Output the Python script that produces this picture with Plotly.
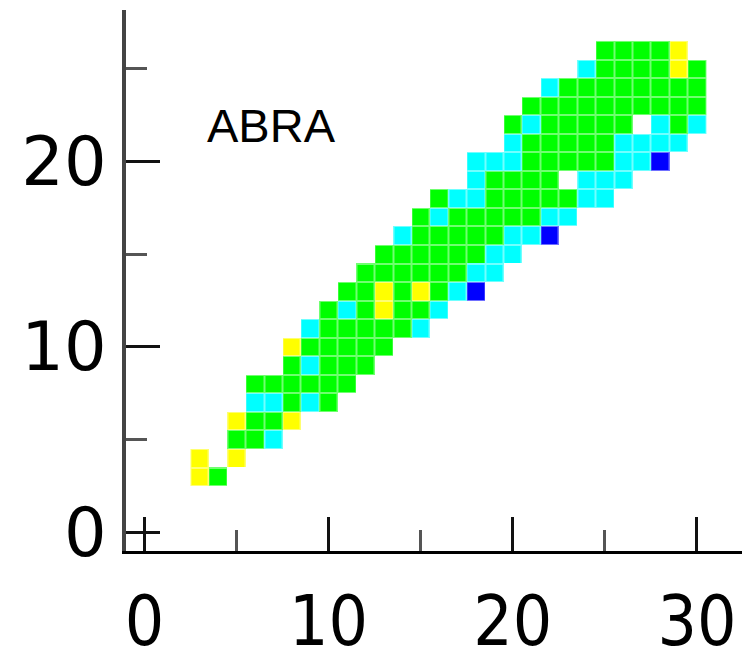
import plotly.graph_objects as go

# Grid columns / rows (cell centres, data units)
x_cols = list(range(3, 31))
y_rows = list(range(3, 27))

# For each row: first occupied column and the level code of every cell from there.
# B = level 1, C = level 2, G = level 3, Y = level 4, "." = empty
row_start = [3, 3, 5, 5, 6, 6, 8, 8, 9, 10, 11, 12,
             13, 14, 15, 16, 18, 18, 20, 20, 21, 22, 24, 25]
row_codes = [
    "YG",            # y=3
    "Y.Y",           # y=4
    "GGC",           # y=5
    "YGGY",          # y=6
    "CCGCG",         # y=7
    "GGGGGG",        # y=8
    "GCGGG",         # y=9
    "YGGGGG",        # y=10
    "CGGGGGC",       # y=11
    "GCGYGGC",       # y=12
    "GGYGYGCB",      # y=13
    "GGGGGGCC",      # y=14
    "GGGGGGCC",      # y=15
    "CGGGGGCCB",     # y=16
    "GCGGGGGCC",     # y=17
    "GCCGGGGGCC",    # y=18
    "CGGGG.CCC",     # y=19
    "CCCGGGGGCCB",   # y=20
    "CGGGGGCCCC",    # y=21
    "GCGGGGG.CGC",   # y=22
    "GGGGGGGGGG",    # y=23
    "CGGGGGGGG",     # y=24
    "CGGGGYG",       # y=25
    "GGGGY",         # y=26
]
level_of = {"B": 1, "C": 2, "G": 3, "Y": 4}

x_ticks = [0, 10, 20, 30]
y_ticks = [0, 10, 20]
minor_ticks = [5, 15, 25]
label_text = "ABRA"

# Build the z matrix
z = []
for start, codes in zip(row_start, row_codes):
    row = [None] * len(x_cols)
    for k, ch in enumerate(codes):
        if ch in level_of:
            row[x_cols.index(start + k)] = level_of[ch]
    z.append(row)


def stepped(colors):
    n = len(colors)
    scale = []
    for i, c in enumerate(colors):
        scale.append([i / n, c])
        scale.append([(i + 1) / n, c])
    return scale


solid = stepped(["#0000ff", "#00ffff", "#00ff00", "#ffff00"])
soft = stepped(["#7070ff", "#70ffff", "#70ff70", "#ffff70"])

fig = go.Figure()
# pale underlay so the gaps between bricks read as a light tint
fig.add_trace(go.Heatmap(x=x_cols, y=y_rows, z=z, colorscale=soft,
                         zmin=0.5, zmax=4.5, showscale=False,
                         hoverinfo="skip"))
fig.add_trace(go.Heatmap(x=x_cols, y=y_rows, z=z, colorscale=solid,
                         zmin=0.5, zmax=4.5, showscale=False,
                         xgap=2, ygap=2))

fig.add_annotation(x=3.3, y=21.95, xref="x", yref="y", text=label_text,
                   showarrow=False, xanchor="left", yanchor="middle",
                   font=dict(family="Liberation Sans, Arial, sans-serif",
                             size=47, color="black"))

x_font = dict(family="DejaVu Sans Condensed, sans-serif", size=69, color="black")
y_font = dict(family="DejaVu Sans, sans-serif", size=67, color="black")

fig.update_layout(
    width=742, height=661,
    margin=dict(l=126, r=0, t=10, b=110, autoexpand=False),
    paper_bgcolor="white", plot_bgcolor="white",
    showlegend=False,
    xaxis=dict(range=[-1, 32.45], tickvals=x_ticks, ticks="inside",
               ticklen=34, tickwidth=3, tickcolor="#111",
               showline=True, linecolor="black", linewidth=3,
               showgrid=False, zeroline=False, tickfont=x_font,
               automargin=False, ticklabelstandoff=8,
               minor=dict(tickvals=minor_ticks, ticks="inside", ticklen=21,
                          tickwidth=3, tickcolor="#555", showgrid=False)),
    yaxis=dict(range=[-1, 28.17], tickvals=y_ticks, ticks="inside",
               ticklen=34, tickwidth=3, tickcolor="#111",
               showline=True, linecolor="#444", linewidth=4,
               showgrid=False, zeroline=False, tickfont=y_font,
               automargin=False, ticklabelstandoff=2,
               minor=dict(tickvals=minor_ticks, ticks="inside", ticklen=21,
                          tickwidth=3, tickcolor="#555", showgrid=False)),
)

fig.write_html("out.html")
